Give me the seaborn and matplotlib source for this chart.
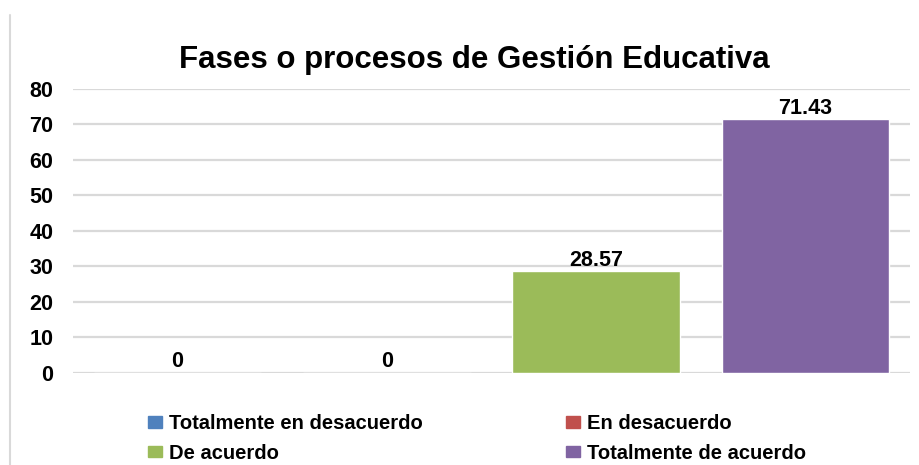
import pandas as pd
import numpy as np
import matplotlib
matplotlib.use("Agg")
import matplotlib.pyplot as plt
import seaborn as sns
from matplotlib.lines import Line2D

categorias = ["Totalmente en desacuerdo", "En desacuerdo", "De acuerdo", "Totalmente de acuerdo"]
valores = [0, 0, 28.57, 71.43]
etiquetas = ["0", "0", "28.57", "71.43"]
colores = ["#4F81BD", "#C0504D", "#9BBB59", "#8064A2"]
titulo = "Fases o procesos de Gestión Educativa"

sns.set_style("white")
plt.rcParams['font.family'] = ['Liberation Sans', 'DejaVu Sans']
plt.rcParams['text.color'] = 'black'
plt.rcParams['ytick.color'] = 'black'

df = pd.DataFrame({"categoria": categorias, "valor": valores})

fig = plt.figure(figsize=(9.2, 4.65), dpi=100)
ax = fig.add_axes([0.0793, 0.198, 0.91, 0.611])

sns.barplot(data=df, x="categoria", y="valor", hue="categoria", palette=colores,
            order=categorias, hue_order=categorias, dodge=False, width=0.8,
            legend=False, ax=ax, saturation=1)

ax.set_ylim(0, 80)
ax.set_yticks(np.arange(0, 81, 10))
ax.set_xlim(-0.5, 3.5)
ax.yaxis.grid(True, color="#d9d9d9", linewidth=1.6)
ax.set_axisbelow(True)
for s in ax.spines.values():
    s.set_visible(False)
ax.set_xticks([])
ax.set_xlabel("")
ax.set_ylabel("")
ax.tick_params(axis="y", length=0, pad=14, labelcolor="black")
for t in ax.get_yticklabels():
    t.set_fontweight("bold")
    t.set_fontsize(15.5)

for i, (v, lab) in enumerate(zip(valores, etiquetas)):
    ax.text(i, v + 0.2, lab, ha="center", va="bottom", fontsize=15.5, fontweight="bold")

fig.text(0.516, 0.871, titulo, ha="center", va="center", fontsize=22.5, fontweight="bold")

# vertical border line on the left
fig.add_artist(Line2D([0.0105, 0.0105], [0.0, 0.968], color="#d9d9d9", linewidth=1.5))

handles = [plt.Rectangle((0, 0), 1, 1, color=c) for c in colores]
order = [0, 2, 1, 3]
leg = fig.legend([handles[i] for i in order], [categorias[i] for i in order],
                 ncol=2, loc="center left", bbox_to_anchor=(0.141, 0.057), frameon=False,
                 prop={"weight": "bold", "size": 14.5}, handlelength=0.7, handleheight=0.5,
                 handletextpad=0.35, columnspacing=7.1, labelspacing=0.52)

fig.savefig("out.png", dpi=100)
